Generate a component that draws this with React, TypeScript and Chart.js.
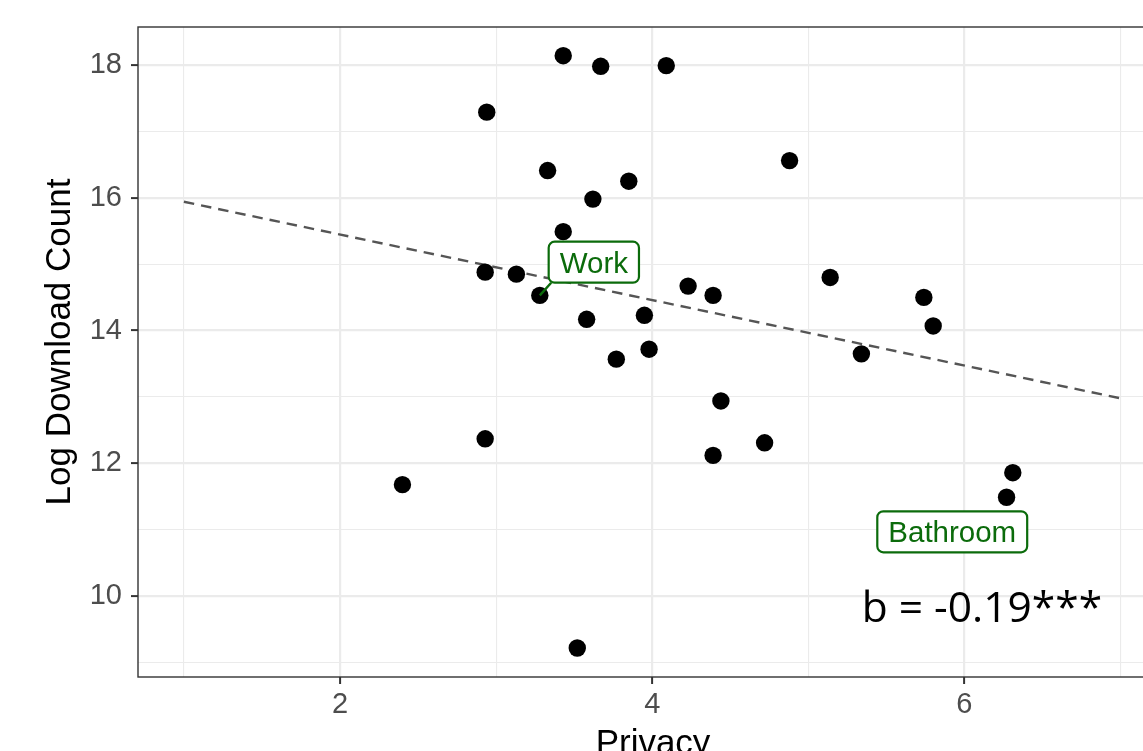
import React, { useEffect, useRef } from 'react';
import { Chart, registerables } from 'chart.js';

Chart.register(...registerables);

// ---- data ----
const privacy = [3.43, 3.67, 4.09, 2.94, 3.33, 3.85, 3.62, 3.43, 2.93, 3.13, 3.28, 4.23, 4.39, 3.58, 3.95, 3.77, 3.98, 4.88, 5.14, 5.74, 5.8, 5.34, 4.44, 2.93, 4.72, 4.39, 2.4, 3.52, 6.31, 6.27];
const logDownloads = [18.14, 17.98, 17.99, 17.29, 16.41, 16.25, 15.98, 15.49, 14.88, 14.85, 14.53, 14.67, 14.53, 14.17, 14.23, 13.57, 13.72, 16.56, 14.8, 14.5, 14.07, 13.65, 12.94, 12.37, 12.31, 12.12, 11.68, 9.22, 11.86, 11.49];
const trendPrivacy = [1, 7];
const trendLog = [15.94, 12.98];

const xMajorTicks = [2, 4, 6];
const xMinorTicks = [1, 3, 5, 7];
const yMajorTicks = [10, 12, 14, 16, 18];
const yMinorTicks = [9, 11, 13, 15, 17];

const xTitle = 'Privacy';
const yTitle = 'Log Download Count';
const labelNames = ['Work', 'Bathroom'];
const labelPoint = [10, -1];
const statText = 'b = -0.19***';

// ---- annotation placement (data units) ----
const labelAnchors = [
  { x: 3.626, y: 15.03 },
  { x: 5.922, y: 10.97 },
];
const statAnchor = { x: 5.342, y: 9.608 };

const GREEN = '#0b6b0b';
const TICK_FONT = { family: '"Liberation Sans", Arial, sans-serif', size: 29 };

// make the panel run to the canvas' right edge (it is cut off there in the reference)
const fillRight = {
  id: 'fillRight',
  afterLayout(chart: any) {
    const a = chart.chartArea;
    const xs = chart.scales.x;
    const target = chart.width;
    if (a.right !== target) {
      a.right = target;
      a.width = a.right - a.left;
      xs.right = target;
      xs.width = target - xs.left;
      xs.configure();
    }
  },
};

const overlay = {
  id: 'overlay',
  afterDraw(chart: any) {
    const { ctx, chartArea: a, scales } = chart;
    const xs = scales.x;
    const ys = scales.y;
    ctx.save();
    // panel border
    ctx.strokeStyle = '#333333';
    ctx.lineWidth = 1.4;
    ctx.strokeRect(a.left, a.top, a.right - a.left + 20, a.bottom - a.top);

    // labels
    ctx.font = '29.5px "Liberation Sans", Arial, sans-serif';
    labelNames.forEach((name, i) => {
      const cx = xs.getPixelForValue(labelAnchors[i].x);
      const cy = ys.getPixelForValue(labelAnchors[i].y);
      const tw = ctx.measureText(name).width;
      const w = tw + 22;
      const h = 41;
      const left = cx - w / 2;
      const top = cy - h / 2;
      if (labelPoint[i] >= 0) {
        const px = xs.getPixelForValue(privacy[labelPoint[i]]);
        const py = ys.getPixelForValue(logDownloads[labelPoint[i]]);
        ctx.strokeStyle = GREEN;
        ctx.lineWidth = 2.4;
        ctx.beginPath();
        ctx.moveTo(px, py);
        ctx.lineTo(left + 2.5, top + h);
        ctx.stroke();
      }
      ctx.fillStyle = '#ffffff';
      ctx.strokeStyle = GREEN;
      ctx.lineWidth = 2.2;
      ctx.beginPath();
      ctx.roundRect(left, top, w, h, 6);
      ctx.fill();
      ctx.stroke();
      ctx.fillStyle = GREEN;
      ctx.textAlign = 'center';
      ctx.textBaseline = 'alphabetic';
      ctx.fillText(name, cx, cy + 10.5);
    });

    // statistic text
    ctx.fillStyle = '#000000';
    ctx.font = '42.5px "Open Sans", "Noto Sans", sans-serif';
    ctx.textAlign = 'left';
    ctx.textBaseline = 'alphabetic';
    ctx.fillText(statText, xs.getPixelForValue(statAnchor.x), ys.getPixelForValue(statAnchor.y));

    // axis titles
    ctx.font = '35px "Liberation Sans", Arial, sans-serif';
    ctx.fillStyle = '#000000';
    ctx.textAlign = 'center';
    ctx.fillText(xTitle, 653, 754.4);
    ctx.translate(70, 342);
    ctx.rotate(-Math.PI / 2);
    ctx.fillText(yTitle, 0, 0);
    ctx.restore();
  },
};

export default function App() {
  const ref = useRef<HTMLCanvasElement | null>(null);
  useEffect(() => {
    if (!ref.current) return;
    const gridColor = '#ebebeb';
    const chart = new Chart(ref.current, {
      type: 'scatter',
      data: {
        datasets: [
          {
            label: 'apps',
            data: privacy.map((v, i) => ({ x: v, y: logDownloads[i] })),
            pointRadius: 8.7,
            pointBackgroundColor: '#000000',
            pointBorderWidth: 0,
            pointHoverRadius: 8.7,
            order: 1,
          },
          {
            label: 'trend',
            data: trendPrivacy.map((v, i) => ({ x: v, y: trendLog[i] })),
            showLine: true,
            borderColor: '#555555',
            borderWidth: 2.4,
            borderDash: [10.5, 7],
            pointRadius: 0,
            fill: false,
            order: 2,
          } as any,
        ],
      },
      options: {
        responsive: false,
        animation: false,
        layout: { padding: { top: 27, left: 0, right: 0, bottom: 0 } },
        plugins: { legend: { display: false }, tooltip: { enabled: false } },
        scales: {
          x: {
            type: 'linear',
            min: 0.706,
            max: 7.144,
            afterBuildTicks: (s: any) => {
              s.ticks = [...xMinorTicks, ...xMajorTicks].sort((p, q) => p - q).map((v) => ({ value: v }));
            },
            afterFit: (s: any) => {
              s.height = 74;
              s.paddingLeft = 0;
              s.paddingRight = 0;
            },
            border: { display: false },
            grid: {
              color: gridColor,
              lineWidth: (c: any) => (xMajorTicks.includes(c.tick?.value) ? 2.2 : 1.1),
              tickColor: (c: any) => (xMajorTicks.includes(c.tick?.value) ? '#333333' : 'rgba(0,0,0,0)'),
              tickWidth: 2,
              tickLength: 7,
            },
            ticks: {
              autoSkip: false,
              maxRotation: 0,
              padding: 4,
              color: '#4d4d4d',
              font: TICK_FONT,
              callback: (v: any) => (xMajorTicks.includes(v) ? String(v) : ''),
            },
          },
          y: {
            type: 'linear',
            min: 8.783,
            max: 18.572,
            afterBuildTicks: (s: any) => {
              s.ticks = [...yMinorTicks, ...yMajorTicks].sort((p, q) => p - q).map((v) => ({ value: v }));
            },
            afterFit: (s: any) => {
              s.width = 138;
              s.paddingTop = 0;
              s.paddingBottom = 0;
            },
            border: { display: false },
            grid: {
              color: gridColor,
              lineWidth: (c: any) => (yMajorTicks.includes(c.tick?.value) ? 2.2 : 1.1),
              tickColor: (c: any) => (yMajorTicks.includes(c.tick?.value) ? '#333333' : 'rgba(0,0,0,0)'),
              tickWidth: 2,
              tickLength: 7,
            },
            ticks: {
              autoSkip: false,
              padding: 9,
              color: '#4d4d4d',
              font: TICK_FONT,
              callback: (v: any) => (yMajorTicks.includes(v) ? String(v) : ''),
            },
          },
        },
      },
      plugins: [fillRight, overlay],
    });
    return () => chart.destroy();
  }, []);

  return (
    <div style={{ position: 'absolute', left: 0, top: 0, width: 1143, height: 751, background: '#ffffff', overflow: 'hidden' }}>
      <canvas ref={ref} width={1143} height={751} style={{ display: 'block', width: 1143, height: 751 }} />
    </div>
  );
}
